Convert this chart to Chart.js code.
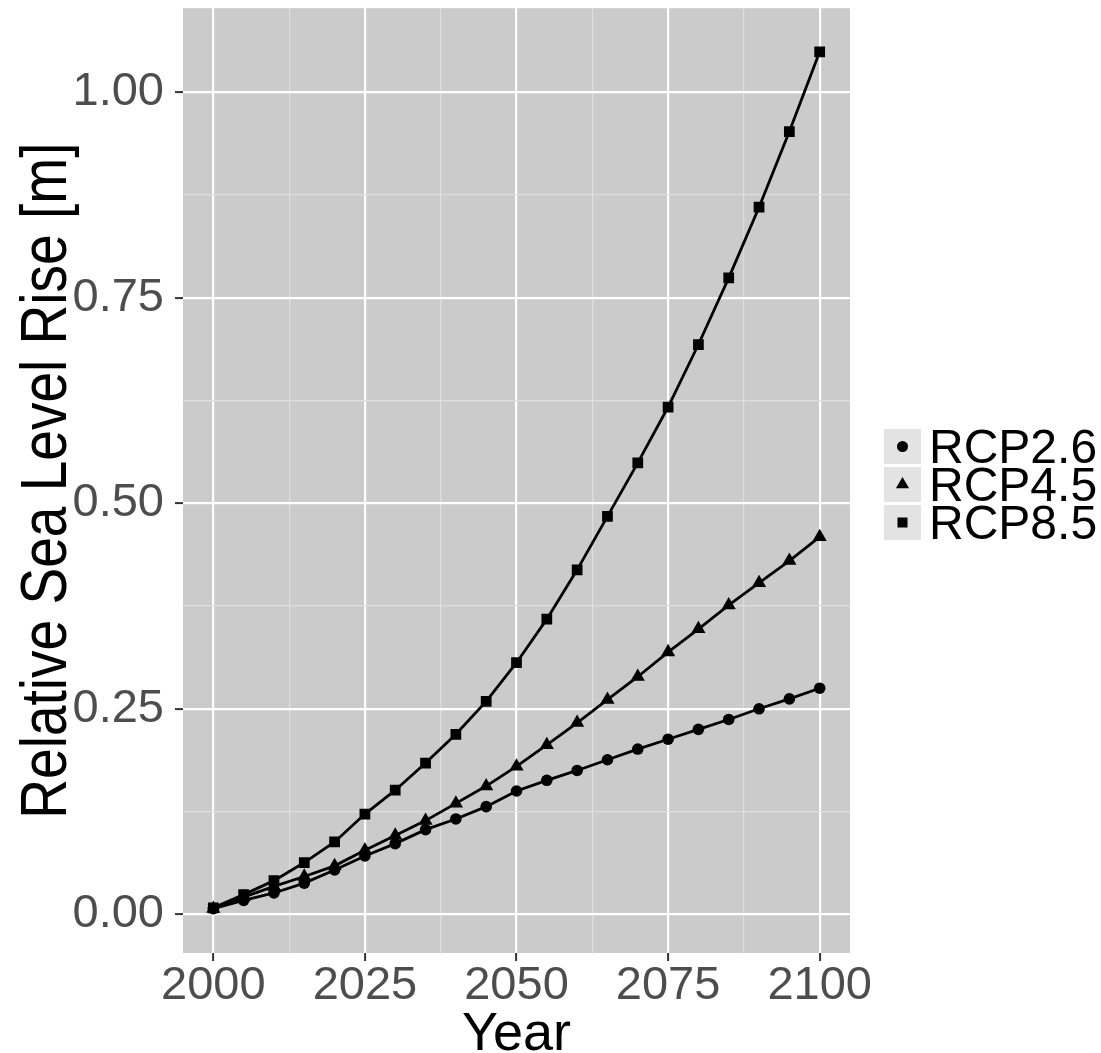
<!DOCTYPE html>
<html>
<head>
<meta charset="utf-8">
<script src="https://cdn.jsdelivr.net/npm/chart.js@4.4.1/dist/chart.umd.min.js"></script>
<style>
  html, body { margin: 0; padding: 0; background: #ffffff; }
  #wrap { width: 1101px; height: 1053px; }
</style>
</head>
<body>
<div id="wrap"><canvas id="c" width="1101" height="1053"></canvas></div>
<script>
// Projection years and relative sea level rise (m) per scenario
const years = [2000, 2005, 2010, 2015, 2020, 2025, 2030, 2035, 2040, 2045, 2050,
               2055, 2060, 2065, 2070, 2075, 2080, 2085, 2090, 2095, 2100];
const rcp26 = [0.007, 0.017, 0.026, 0.038, 0.054, 0.071, 0.086, 0.103, 0.116, 0.131, 0.150,
               0.163, 0.175, 0.188, 0.201, 0.213, 0.225, 0.237, 0.250, 0.262, 0.275];
const rcp45 = [0.007, 0.021, 0.034, 0.046, 0.059, 0.078, 0.096, 0.114, 0.135, 0.156, 0.180,
               0.206, 0.233, 0.261, 0.289, 0.319, 0.347, 0.376, 0.403, 0.430, 0.459];
const rcp85 = [0.008, 0.024, 0.041, 0.063, 0.088, 0.122, 0.151, 0.184, 0.219, 0.259, 0.306,
               0.359, 0.419, 0.484, 0.549, 0.617, 0.693, 0.774, 0.860, 0.952, 1.049];
const seriesNames = ['RCP2.6', 'RCP4.5', 'RCP8.5'];
const seriesShapes = ['circle', 'triangle', 'rect'];

// Axis breaks: major (labelled) and minor (midpoint) grid positions
const xMajor = [2000, 2025, 2050, 2075, 2100];
const xMinor = [2012.5, 2037.5, 2062.5, 2087.5];
const yMajor = [0, 0.25, 0.5, 0.75, 1.0];
const yMinor = [0.125, 0.375, 0.625, 0.875];
const xTitle = 'Year';
const yTitle = 'Relative Sea Level Rise [m]';

const PANEL_BG = '#cbcbcb';
const KEY_BG = '#e3e3e3';
const FONT = '"Liberation Sans", Arimo, Helvetica, Arial, sans-serif';

function toPoints(vals) { return years.map((yr, i) => ({ x: yr, y: vals[i] })); }

const pointSizes = { circle: 5.8, triangle: 8.2, rect: 7.6 };
const datasets = [rcp26, rcp45, rcp85].map((vals, i) => ({
  label: seriesNames[i],
  data: toPoints(vals),
  borderColor: '#000000',
  backgroundColor: '#000000',
  borderWidth: 2.8,
  pointStyle: seriesShapes[i],
  pointRadius: pointSizes[seriesShapes[i]],
  pointBorderWidth: 0,
  pointBackgroundColor: '#000000',
  tension: 0,
  fill: false
}));

function isMajor(list, v) { return list.some(m => Math.abs(m - v) < 1e-9); }

function drawShape(ctx, shape, x, y, r) {
  ctx.beginPath();
  if (shape === 'circle') {
    ctx.arc(x, y, r, 0, Math.PI * 2);
  } else if (shape === 'triangle') {
    const h = r * 1.5, half = r * Math.sqrt(3) / 2;
    ctx.moveTo(x, y - r);
    ctx.lineTo(x + half, y - r + h);
    ctx.lineTo(x - half, y - r + h);
    ctx.closePath();
  } else {
    ctx.rect(x - r, y - r, 2 * r, 2 * r);
  }
  ctx.fill();
}

// Grey panel behind the grid
const panelPlugin = {
  id: 'panel',
  beforeDraw(chart) {
    const { ctx, chartArea: a } = chart;
    ctx.save();
    ctx.fillStyle = '#ffffff';
    ctx.fillRect(0, 0, chart.width, chart.height);
    ctx.fillStyle = PANEL_BG;
    ctx.fillRect(a.left, a.top, a.right - a.left, a.bottom - a.top);
    ctx.restore();
  }
};

// Axis titles and the shape legend on the right
const decorPlugin = {
  id: 'decor',
  afterDraw(chart) {
    const { ctx, chartArea: a } = chart;
    ctx.save();
    ctx.fillStyle = '#000000';
    // x title
    ctx.font = '54px ' + FONT;
    ctx.textAlign = 'center';
    ctx.textBaseline = 'alphabetic';
    ctx.fillText(xTitle, (a.left + a.right) / 2, 1050);
    // y title, rotated and slightly condensed
    ctx.save();
    ctx.translate(66, (a.top + a.bottom) / 2);
    ctx.rotate(-Math.PI / 2);
    ctx.scale(0.86, 1);
    ctx.font = '64px ' + FONT;
    ctx.fillText(yTitle, 0, 0);
    ctx.restore();

    // legend
    const keyX = 884, keyW = 37, keyH = 35, top0 = 429, step = 38;
    const legendSizes = { circle: 5.5, triangle: 7.6, rect: 5 };
    chart.data.datasets.forEach((ds, i) => {
      const ky = top0 + i * step;
      ctx.fillStyle = KEY_BG;
      ctx.fillRect(keyX, ky, keyW, keyH);
      ctx.fillStyle = '#000000';
      drawShape(ctx, ds.pointStyle, keyX + keyW / 2, ky + keyH / 2, legendSizes[ds.pointStyle]);
      ctx.font = '48px ' + FONT;
      ctx.textAlign = 'left';
      ctx.textBaseline = 'alphabetic';
      ctx.fillText(ds.label, 929, ky + keyH - 1);
    });
    ctx.restore();
  }
};

new Chart(document.getElementById('c'), {
  type: 'line',
  data: { datasets },
  plugins: [panelPlugin, decorPlugin],
  options: {
    responsive: false,
    animation: false,
    devicePixelRatio: 1,
    layout: { padding: { left: 0, right: 251, top: 7, bottom: 0 } },
    plugins: { legend: { display: false }, tooltip: { enabled: false } },
    scales: {
      x: {
        type: 'linear',
        min: 1995,
        max: 2105,
        afterBuildTicks(scale) {
          scale.ticks = [...xMajor, ...xMinor].sort((a, b) => a - b).map(v => ({ value: v }));
        },
        afterFit(scale) {
          scale.height = 100;
          scale.paddingLeft = 0;
          scale.paddingRight = 0;
        },
        border: { display: false },
        grid: {
          drawOnChartArea: true,
          drawTicks: true,
          tickLength: 8,
          color: c => isMajor(xMajor, c.tick.value) ? '#ffffff' : '#dedede',
          lineWidth: c => isMajor(xMajor, c.tick.value) ? 2.2 : 1.2,
          tickColor: c => isMajor(xMajor, c.tick.value) ? '#333333' : 'rgba(0,0,0,0)',
          tickWidth: 2
        },
        ticks: {
          autoSkip: false,
          maxRotation: 0,
          padding: -3,
          color: '#4d4d4d',
          font: { family: FONT, size: 47 },
          callback: v => isMajor(xMajor, v) ? String(v) : ''
        }
      },
      y: {
        type: 'linear',
        min: -0.047,
        max: 1.102,
        afterBuildTicks(scale) {
          scale.ticks = [...yMajor, ...yMinor].sort((a, b) => a - b).map(v => ({ value: v }));
        },
        afterFit(scale) {
          scale.width = 183;
          scale.paddingTop = 0;
          scale.paddingBottom = 0;
        },
        border: { display: false },
        grid: {
          drawOnChartArea: true,
          drawTicks: true,
          tickLength: 8,
          color: c => isMajor(yMajor, c.tick.value) ? '#ffffff' : '#dedede',
          lineWidth: c => isMajor(yMajor, c.tick.value) ? 2.2 : 1.2,
          tickColor: c => isMajor(yMajor, c.tick.value) ? '#333333' : 'rgba(0,0,0,0)',
          tickWidth: 2
        },
        ticks: {
          autoSkip: false,
          padding: 11,
          color: '#4d4d4d',
          font: { family: FONT, size: 47 },
          callback: v => isMajor(yMajor, v) ? v.toFixed(2) : ''
        }
      }
    }
  }
});
</script>
</body>
</html>
